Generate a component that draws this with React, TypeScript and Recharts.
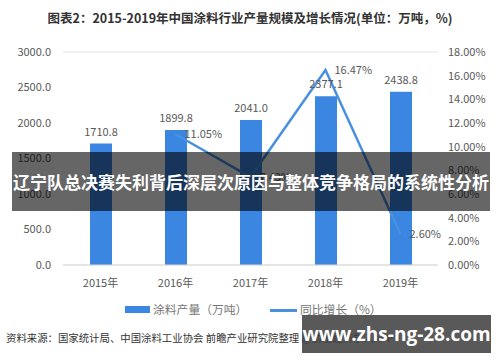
import {
  Bar,
  CartesianGrid,
  ComposedChart,
  LabelList,
  Line,
  XAxis,
  YAxis,
} from "recharts";

const years = ["2015年", "2016年", "2017年", "2018年", "2019年"];
const output = [1710.8, 1899.8, 2041.0, 2377.1, 2438.8];
const growth: (number | null)[] = [null, 11.05, 7.43, 16.47, 2.6];
const leftTicks = [0, 500, 1000, 1500, 2000, 2500, 3000];
const rightTicks = [0, 2, 4, 6, 8, 10, 12, 14, 16, 18];

const data = years.map((year, i) => ({ year, output: output[i], growth: growth[i] }));

const font = '"Noto Sans CJK SC", "Noto Sans", sans-serif';
const tickStyle = { fill: "#595959", fontSize: 11, fontFamily: font };

const GrowthLabel = (props: any) => {
  const { x, y, value } = props;
  if (value == null) return null;
  return (
    <text x={x + 9} y={y} dy={4} fill="#595959" fontSize={11} fontFamily={font}>
      {`${Number(value).toFixed(2)}%`}
    </text>
  );
};

const App = () => (
  <div style={{ position: "absolute", left: 0, top: 0, width: 500, height: 362, background: "#fff", fontFamily: font, overflow: "hidden" }}>
    <div style={{ position: "absolute", top: 8, left: 0, width: 500, textAlign: "center", fontSize: 12.5, fontWeight: "bold", color: "#333" }}>
      图表2：2015-2019年中国涂料行业产量规模及增长情况(单位：万吨，%)
    </div>
    <ComposedChart
      width={500}
      height={362}
      data={data}
      margin={{ top: 52, right: 0, bottom: 67, left: 0 }}
    >
      <CartesianGrid vertical={false} stroke="#e3e3e3" />
      <XAxis
        dataKey="year"
        height={30}
        tickLine={false}
        axisLine={{ stroke: "#d9d9d9" }}
        tick={tickStyle}
        tickMargin={8}
      />
      <YAxis
        yAxisId="left"
        orientation="left"
        width={63}
        domain={[0, 3000]}
        ticks={leftTicks}
        tickFormatter={(v: number) => v.toFixed(1)}
        axisLine={false}
        tickLine={false}
        tickSize={0}
        tickMargin={12}
        tick={tickStyle}
      />
      <YAxis
        yAxisId="right"
        orientation="right"
        width={62}
        domain={[0, 18]}
        ticks={rightTicks}
        tickFormatter={(v: number) => `${v.toFixed(2)}%`}
        axisLine={false}
        tickLine={false}
        tickSize={0}
        tickMargin={10}
        tick={tickStyle}
      />
      <Bar yAxisId="left" dataKey="output" fill="#3a86e0" barSize={22} isAnimationActive={false}>
        <LabelList
          dataKey="output"
          position="top"
          offset={8}
          formatter={(v: any) => Number(v).toFixed(1)}
          style={{ fill: "#595959", fontSize: 11, fontFamily: font }}
        />
      </Bar>
      <Line
        yAxisId="right"
        dataKey="growth"
        stroke="#4a90e2"
        strokeWidth={2.5}
        dot={false}
        activeDot={false}
        isAnimationActive={false}
      >
        <LabelList dataKey="growth" content={<GrowthLabel />} />
      </Line>
    </ComposedChart>
    {/* legend */}
    <div style={{ position: "absolute", left: 125, top: 306, width: 25, height: 7, background: "#3a86e0" }} />
    <div style={{ position: "absolute", left: 153, top: 300, fontSize: 11.8, color: "#777" }}>涂料产量（万吨）</div>
    <div style={{ position: "absolute", left: 270, top: 309, width: 27, height: 2.5, background: "#4a90e2" }} />
    <div style={{ position: "absolute", left: 300, top: 300, fontSize: 11.8, color: "#777" }}>同比增长（%）</div>
    {/* source */}
    <div style={{ position: "absolute", left: 6, top: 330, fontSize: 10.4, color: "#333", whiteSpace: "nowrap" }}>
      资料来源：国家统计局、中国涂料工业协会 前瞻产业研究院整理 @前瞻经济学人APP
    </div>
    {/* overlays */}
    <div style={{ position: "absolute", left: 12, top: 152, width: 478, height: 59, background: "rgba(0,0,0,0.6)", color: "#fff", fontWeight: "bold", fontSize: 17, display: "flex", alignItems: "center", justifyContent: "center", whiteSpace: "nowrap" }}>
      辽宁队总决赛失利背后深层次原因与整体竞争格局的系统性分析
    </div>
    <div style={{ position: "absolute", left: 302, top: 315, width: 189, height: 38, background: "rgba(60,60,60,0.85)", color: "#fff", fontWeight: "bold", fontSize: 19, fontFamily: '"Open Sans", sans-serif', display: "flex", alignItems: "center", justifyContent: "center", whiteSpace: "nowrap" }}>
      www.zhs-ng-28.com
    </div>
  </div>
);

export default App;
